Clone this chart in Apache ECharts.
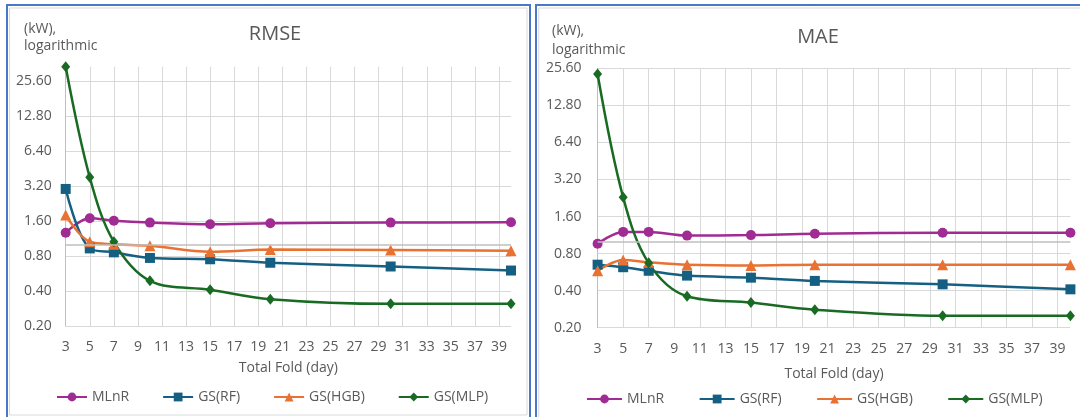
<!DOCTYPE html>
<html>
<head>
<meta charset="utf-8">
<script src="https://cdn.jsdelivr.net/npm/echarts@6/dist/echarts.min.js"></script>
<style>
  html, body { margin: 0; padding: 0; background: #ffffff; }
  #chart { width: 1080px; height: 417px; }
</style>
</head>
<body>
<div id="chart"></div>
<script>
// Fold lengths (days) at which each model was evaluated
const folds = [3, 5, 7, 10, 15, 20, 30, 40];

// RMSE (kW)
const rmseMLnR = [1.27, 1.69, 1.61, 1.55, 1.50, 1.53, 1.55, 1.56];
const rmseRF   = [3.02, 0.93, 0.86, 0.77, 0.75, 0.70, 0.65, 0.60];
const rmseHGB  = [1.80, 1.06, 1.01, 0.98, 0.87, 0.91, 0.90, 0.89];
const rmseMLP  = [34.0, 3.80, 1.06, 0.49, 0.41, 0.34, 0.31, 0.31];

// MAE (kW)
const maeMLnR = [0.96, 1.20, 1.20, 1.12, 1.13, 1.16, 1.18, 1.18];
const maeRF   = [0.65, 0.62, 0.58, 0.53, 0.51, 0.48, 0.45, 0.41];
const maeHGB  = [0.58, 0.71, 0.68, 0.65, 0.64, 0.65, 0.65, 0.65];
const maeMLP  = [23.0, 2.29, 0.67, 0.36, 0.32, 0.28, 0.25, 0.25];

// Log-2 value axis: ticks double from the base value
const yTickLabels = ['0.20', '0.40', '0.80', '1.60', '3.20', '6.40', '12.80', '25.60'];
const yBase = 0.2;
const rmseTop = 34.0;
const maeTop = 25.6;
const xTickStep = 2;
const seriesNames = ['MLnR', 'GS(RF)', 'GS(HGB)', 'GS(MLP)'];

const FONT = '"Open Sans", "Noto Sans", sans-serif';
const TEXT = '#595959';
const GRID = '#d9d9d9';
const AXIS = '#bfbfbf';
const COLORS = ['#A02B93', '#156082', '#E97132', '#196B24'];
const SYMBOLS = ['circle', 'rect', 'triangle', 'diamond'];
const SIZES = [10, 10, 11, [9, 11]];

// position on the base-2 scale, in doublings above the base value
const toLog = v => Math.log2(v / yBase);

function xAxisFor(gridIndex, nameGap, labelMargin) {
  return {
    type: 'value', gridIndex, min: folds[0], max: folds[folds.length - 1], interval: xTickStep,
    name: 'Total Fold (day)', nameLocation: 'middle', nameGap,
    nameTextStyle: { color: TEXT, fontSize: 14, fontFamily: FONT },
    axisLine: { show: false }, axisTick: { show: false },
    axisLabel: {
      color: TEXT, fontSize: 14, fontFamily: FONT, margin: labelMargin,
      formatter: v => (v === folds[folds.length - 1] ? '' : String(v))
    },
    splitLine: { show: true, showMaxLine: false, lineStyle: { color: GRID, width: 1 } }
  };
}

function yAxisFor(gridIndex, top, showMax, labelMargin) {
  return {
    type: 'value', gridIndex, min: 0, max: toLog(top), interval: 1,
    axisLine: { show: true, lineStyle: { color: AXIS, width: 1 } },
    axisTick: { show: false },
    axisLabel: {
      color: TEXT, fontSize: 14, fontFamily: FONT, margin: labelMargin,
      formatter: v => {
        const k = Math.round(v);
        return Math.abs(v - k) < 1e-6 && yTickLabels[k] !== undefined ? yTickLabels[k] : '';
      }
    },
    splitLine: { show: true, showMinLine: true, showMaxLine: showMax, lineStyle: { color: GRID, width: 1 } }
  };
}

function seriesFor(gridIndex, arrays) {
  return arrays.map((vals, i) => {
    const s = {
      name: seriesNames[i], type: 'line', xAxisIndex: gridIndex, yAxisIndex: gridIndex,
      data: folds.map((f, j) => [f, toLog(vals[j])]),
      smooth: 0.35,
      symbol: SYMBOLS[i], symbolSize: SIZES[i], showSymbol: true,
      itemStyle: { color: COLORS[i], borderWidth: 0 },
      lineStyle: { color: COLORS[i], width: 2.5 },
      emphasis: { disabled: true },
      animation: false
    };
    if (i === 0) {
      // horizontal axis crossing at 1 kW
      s.markLine = {
        silent: true, symbol: 'none', label: { show: false }, animation: false,
        lineStyle: { color: AXIS, type: 'solid', width: 1.5 },
        data: [{ yAxis: toLog(1) }]
      };
    }
    return s;
  });
}

function legendFor(left, top, gap, width) {
  return {
    left, top, padding: 0, itemGap: gap, itemWidth: width, itemHeight: 11,
    data: seriesNames,
    textStyle: { color: TEXT, fontSize: 14, fontFamily: FONT },
    selectedMode: false
  };
}

const chart = echarts.init(document.getElementById('chart'), null, { renderer: 'canvas' });

chart.setOption({
  backgroundColor: '#ffffff',
  animation: false,
  title: [
    { text: 'RMSE', left: 270, top: 19, textAlign: 'center',
      textStyle: { color: TEXT, fontSize: 20, fontWeight: 'normal', fontFamily: FONT } },
    { text: 'MAE', left: 813, top: 22, textAlign: 'center',
      textStyle: { color: TEXT, fontSize: 20, fontWeight: 'normal', fontFamily: FONT } },
    { text: '(kW),\nlogarithmic', left: 19, top: 16,
      textStyle: { color: TEXT, fontSize: 14, fontWeight: 'normal', fontFamily: FONT, lineHeight: 17 } },
    { text: '(kW),\nlogarithmic', left: 547, top: 17,
      textStyle: { color: TEXT, fontSize: 14, fontWeight: 'normal', fontFamily: FONT, lineHeight: 18.5 } }
  ],
  grid: [
    { left: 65.7, top: 66.7, width: 445.3, height: 259.3, containLabel: false },
    { left: 597.6, top: 68.3, width: 472.8, height: 259.4, containLabel: false }
  ],
  xAxis: [xAxisFor(0, 35, 14), xAxisFor(1, 39, 14)],
  yAxis: [yAxisFor(0, rmseTop, false, 14), yAxisFor(1, maeTop, true, 16)],
  legend: [legendFor(56, 390, 33, 30), legendFor(586, 392, 34.5, 35)],
  series: [
    ...seriesFor(0, [rmseMLnR, rmseRF, rmseHGB, rmseMLP]),
    ...seriesFor(1, [maeMLnR, maeRF, maeHGB, maeMLP])
  ],
  graphic: [
    // chart area frames
    { type: 'rect', silent: true, z: 100,
      shape: { x: 9.5, y: 8, width: 517.5, height: 407 },
      style: { fill: 'none', stroke: '#d9d9d9', lineWidth: 1 } },
    { type: 'rect', silent: true, z: 101,
      shape: { x: 7, y: 5, width: 523, height: 420 },
      style: { fill: 'none', stroke: '#4a78c8', lineWidth: 2 } },
    { type: 'rect', silent: true, z: 100,
      shape: { x: 538.7, y: 8, width: 560, height: 420 },
      style: { fill: 'none', stroke: '#d9d9d9', lineWidth: 1 } },
    { type: 'rect', silent: true, z: 101,
      shape: { x: 536, y: 5, width: 560, height: 420 },
      style: { fill: 'none', stroke: '#4a78c8', lineWidth: 2 } }
  ]
});
</script>
</body>
</html>
